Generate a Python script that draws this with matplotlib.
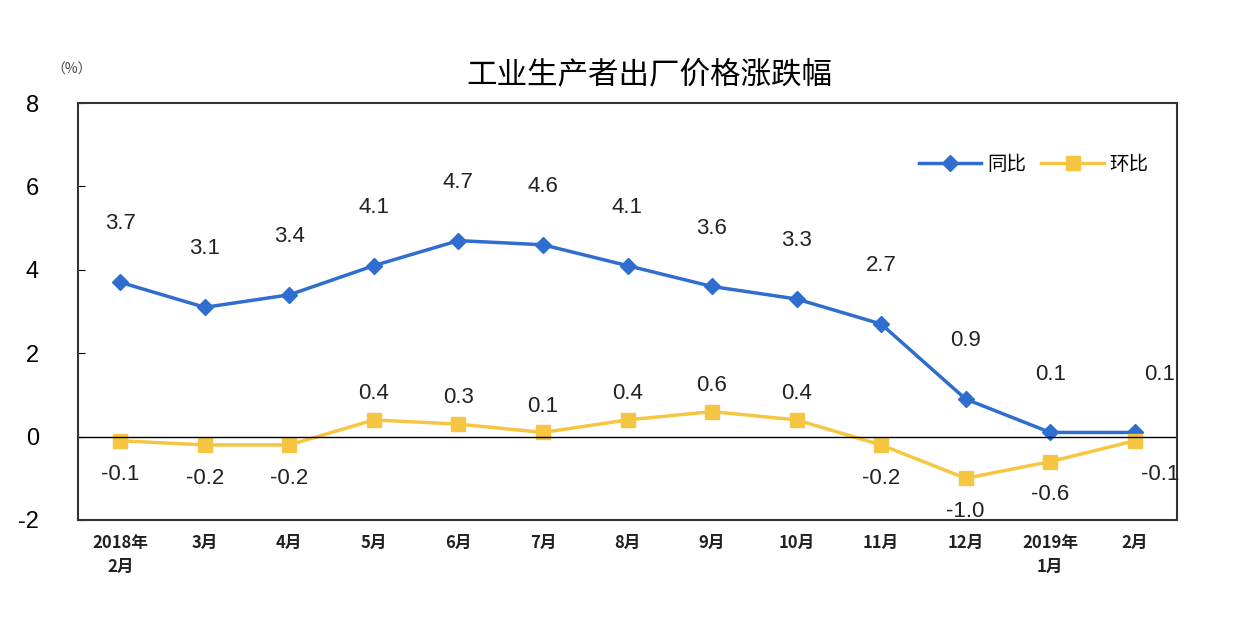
import numpy as np
import matplotlib.pyplot as plt

plt.rcParams['font.family'] = ['Liberation Sans', 'Noto Sans CJK SC', 'DejaVu Sans']
plt.rcParams['axes.unicode_minus'] = False

months = ["2018年\n2月", "3月", "4月", "5月", "6月", "7月", "8月", "9月",
          "10月", "11月", "12月", "2019年\n1月", "2月"]
yoy = [3.7, 3.1, 3.4, 4.1, 4.7, 4.6, 4.1, 3.6, 3.3, 2.7, 0.9, 0.1, 0.1]
mom = [-0.1, -0.2, -0.2, 0.4, 0.3, 0.1, 0.4, 0.6, 0.4, -0.2, -1.0, -0.6, -0.1]

blue = '#2F6ECF'
yellow = '#F6C643'

fig = plt.figure(figsize=(12.52, 6.28), dpi=100)
ax = fig.add_axes([78 / 1252, 1 - 520 / 628, 1099 / 1252, 417 / 628])

x = np.arange(len(months))
ax.plot(x, yoy, color=blue, lw=2.5, marker='D', ms=8, label='同比')
ax.plot(x, mom, color=yellow, lw=2.5, marker='s', ms=10, label='环比')
ax.axhline(0, color='black', lw=1)

for i, v in enumerate(yoy):
    dx = 18 if i == len(yoy) - 1 else 0
    ax.annotate(f"{v:.1f}", (i, v), xytext=(dx, 42), textcoords='offset points',
                ha='center', va='center', fontsize=16, color='#222222')
for i, v in enumerate(mom):
    dx = 18 if i == len(mom) - 1 else 0
    dy = 19 if v > 0 else -24
    ax.annotate(f"{v:.1f}", (i, v), xytext=(dx, dy), textcoords='offset points',
                ha='center', va='center', fontsize=16, color='#222222')

ax.set_xlim(-0.5, len(months) - 0.5)
ax.set_ylim(-2, 8)
ax.set_yticks([-2, 0, 2, 4, 6, 8])
ax.set_xticks(x)
ax.set_xticklabels(months, fontsize=12, family=['Noto Sans CJK SC'], fontweight='bold',
                   color='#222222', linespacing=1.4, va='top')
ax.tick_params(axis='x', length=0, pad=10)
ax.tick_params(axis='y', direction='in', length=5, pad=28, labelsize=17)
for s in ax.spines.values():
    s.set_linewidth(1.5)
    s.set_color('#333333')

ax.legend(loc='upper right', bbox_to_anchor=(0.99, 0.92), frameon=False, ncol=2,
          prop={'family': 'Noto Sans CJK SC', 'size': 14}, handlelength=3.2,
          columnspacing=0.8, handletextpad=0.3)

fig.text(649 / 1252, 1 - 75 / 628, '工业生产者出厂价格涨跌幅', ha='center', va='center',
         fontsize=22, family=['Noto Sans CJK SC'])
fig.text(72 / 1252, 1 - 70 / 628, '（%）', ha='center', va='center', fontsize=10,
         family=['Noto Sans CJK SC'], color='#444444')

fig.savefig('out.png', dpi=100)
